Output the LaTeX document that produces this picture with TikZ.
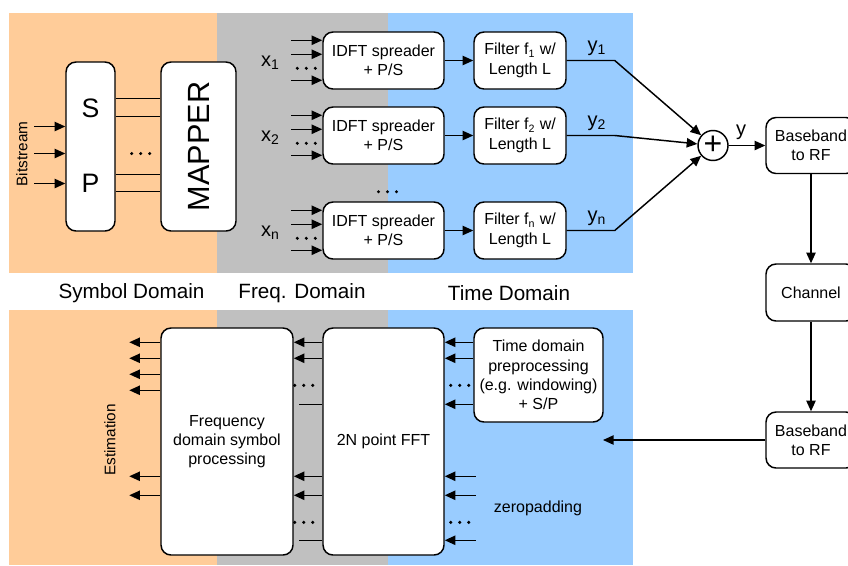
\documentclass[tikz,border=0pt]{standalone}
\usepackage{fontspec}
\setmainfont{Liberation Sans}
\usetikzlibrary{arrows.meta,calc}

\definecolor{symbolbg}{RGB}{255,204,153}
\definecolor{freqbg}{RGB}{192,192,192}
\definecolor{timebg}{RGB}{153,204,255}

% three dots standing for the lines that are left out
\newcommand{\threedots}[1]{\foreach \dx in {-9,0,9} \fill ($#1+(\dx,0)$) circle (1.3pt);}

\tikzset{
  blk/.style={draw, line width=1.1pt, fill=white, rounded corners=7.5pt, align=center,
    inner sep=0pt, font=\fontsize{12}{14.5}\selectfont},
  lbl/.style={inner sep=0pt, font=\fontsize{15}{15}\selectfont},
  domlbl/.style={inner sep=0pt, font=\fontsize{15.5}{15.5}\selectfont},
}

\begin{document}
\begin{tikzpicture}[x=0.75pt,y=-0.75pt,line width=1.1pt,>={Triangle[length=8pt,width=7pt]}]
  \useasboundingbox (0,0) rectangle (848,565);

  % domain backgrounds, transmitter on top and receiver below
  \foreach \ya/\yb in {13/273, 310/565}{
    \fill[symbolbg] (9,\ya) rectangle (217,\yb);
    \fill[freqbg] (217,\ya) rectangle (388,\yb);
    \fill[timebg] (388,\ya) rectangle (633,\yb);
  }
  \node[domlbl] (symdom) at (131.5,293) {Symbol Domain};
  \node[domlbl] (freqdom) at (302,293) {Freq. Domain};
  \node[domlbl] (timedom) at (509,293) {Time Domain};

  % serial to parallel and mapper
  \node[blk, minimum width=36.75pt, minimum height=126.75pt] (sp) at (90.5,146.5) {};
  \node[font=\fontsize{20}{20}\selectfont] (slab) at (90.5,108) {S};
  \node[font=\fontsize{20}{20}\selectfont] (plab) at (90.5,183) {P};
  \node[blk, minimum width=56.25pt, minimum height=126.75pt] (mapper) at (198.5,146.5) {};
  \node[rotate=90, font=\fontsize{23}{23}\selectfont] (maplab) at (mapper) {MAPPER};
  \node[rotate=90, inner sep=0pt, font=\fontsize{11.5}{11.5}\selectfont] (bits) at (22,154) {Bitstream};
  \foreach \dy in {-20,7,37}
    \draw[->] ($(sp.west)+(-31,\dy)$) -- ($(sp.west)+(0,\dy)$);
  \foreach \dy in {37,55,113,130}
    \draw ($(sp.north east)+(0,\dy)$) -- ($(mapper.north west)+(0,\dy)$);
  \threedots{(sp.east)+(25,7)}

  % adder and the radio chain
  \node[draw, circle, line width=1.1pt, fill=white, minimum size=22.5pt, inner sep=0pt,
    font=\fontsize{24}{24}\selectfont] (sum) at (713,145.5) {+};
  \node[blk, minimum width=67.5pt, minimum height=42pt] (bb1) at (811,145.5) {Baseband\\to RF};
  \node[blk, minimum width=67.5pt, minimum height=42.75pt] (chan) at (811,292.5) {Channel};
  \node[blk, minimum width=67.5pt, minimum height=42pt] (bb2) at (811,440) {Baseband\\to RF};
  \node[lbl] (ylab) at (741,132) {y};
  \draw[->] (sum) -- (bb1);
  \draw[->] (bb1) -- (chan);
  \draw[->] (chan) -- (bb2);
  \coordinate (rx) at (603,440);
  \draw[->] (bb2) -- (rx);

  % one row per user: spreading, filtering, summing
  \foreach \i/\y in {1/60.5, 2/135.5, n/230.5}{
    \node[blk, minimum width=90.75pt, minimum height=42.75pt] (idft\i) at (383.5,\y) {IDFT spreader\\+ P/S};
    \node[blk, minimum width=69pt, minimum height=42.75pt] (filt\i) at (520,\y) {Filter f\textsubscript{\i} w/\\Length L};
    \node[lbl] (x\i) at ($(idft\i.west)+(-52,2)$) {x\textsubscript{\i}};
    \foreach \dy in {9,23,49}
      \draw[->] ($(idft\i.north west)+(-31,\dy)$) -- ($(idft\i.north west)+(0,\dy)$);
    \threedots{(idft\i.north west)+(-16,37)}
    \draw[->] (idft\i) -- (filt\i);
    \coordinate (k\i) at ($(filt\i.east)+(48,0)$);
    \node[lbl] (y\i) at ($(k\i)+(-18,-12)$) {y\textsubscript{\i}};
    \draw[->] (filt\i.east) -- (k\i) -- (sum);
  }
  \threedots{(idft2.south)+(4,27)}

  % receiver
  \node[blk, minimum width=99pt, minimum height=170.25pt] (fdsp) at (227,441.5) {Frequency\\domain symbol\\processing};
  \node[blk, minimum width=90.75pt, minimum height=170.25pt] (fft) at (383.5,441.5) {2N point FFT};
  \node[blk, minimum width=96.75pt, minimum height=70.5pt] (tdp) at (538.5,375) {Time domain\\preprocessing\\(e.g. windowing)\\+ S/P};
  \node[lbl, font=\fontsize{12}{12}\selectfont] (zp) at (538,508) {zeropadding};
  \node[rotate=90, inner sep=0pt, font=\fontsize{11.5}{11.5}\selectfont] (est) at (110,440) {Estimation};

  % estimates out of the symbol processing
  \foreach \dy in {15,31,47,63,149,168}
    \draw[->] ($(fdsp.north west)+(0,\dy)$) -- ($(fdsp.north west)+(-31,\dy)$);
  % FFT bins into symbol processing
  \foreach \dy in {15,31,149,168}
    \draw[->] ($(fft.north west)+(0,\dy)$) -- ($(fdsp.north east)+(0,\dy)$);
  \foreach \dy in {77,213}
    \draw ($(fft.north west)+(0,\dy)$) -- ($(fft.north west)+(-23,\dy)$);
  \threedots{(fdsp.north east)+(10,58)}
  \threedots{(fdsp.north east)+(10,195)}
  % samples and zeros into the FFT
  \foreach \dy in {15,31,77}
    \draw[->] ($(tdp.north west)+(0,\dy)$) -- ($(fft.north east)+(0,\dy)$);
  \foreach \dy in {149,168,213}
    \draw[->] ($(fft.north east)+(31,\dy)$) -- ($(fft.north east)+(0,\dy)$);
  \threedots{(fft.north east)+(15,58)}
  \threedots{(fft.north east)+(15,195)}
\end{tikzpicture}
\end{document}
